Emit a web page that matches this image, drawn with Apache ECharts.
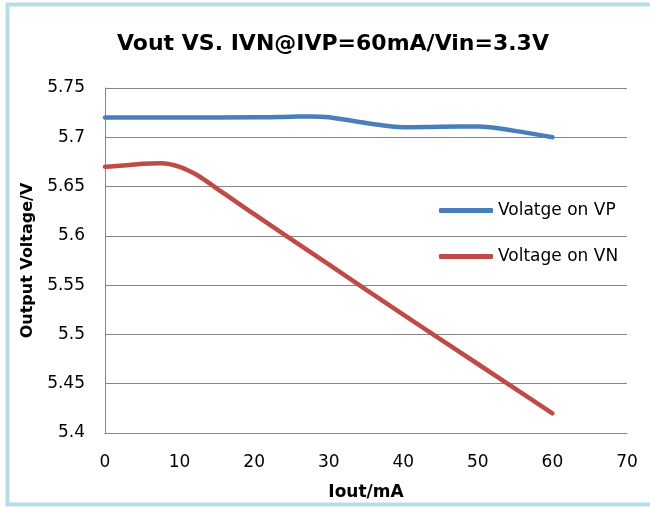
<!DOCTYPE html>
<html>
<head>
<meta charset="utf-8">
<script src="https://cdn.jsdelivr.net/npm/echarts@6/dist/echarts.min.js"></script>
<style>
html,body{margin:0;padding:0;background:#fff;}
#chart{width:650px;height:507px;}
</style>
</head>
<body>
<div id="chart"></div>
<script>
var titleText = 'Vout VS. IVN@IVP=60mA/Vin=3.3V';
var xName = 'Iout/mA';
var yName = 'Output Voltage/V';
var vpName = 'Volatge on VP';
var vnName = 'Voltage on VN';
// values
var vpIout   = [0, 10, 20, 25, 27.5, 30, 35, 40, 45, 50, 55, 60];
var vpValues = [5.720, 5.720, 5.7202, 5.7209, 5.7212, 5.7204, 5.7145, 5.7102, 5.7107, 5.7109, 5.7065, 5.700];
var vnIout   = [0, 2.5, 5, 7.5, 10, 12.5, 15, 17.5, 20, 30, 40, 50, 60];
var vnValues = [5.670, 5.6713, 5.6731, 5.6736, 5.6700, 5.661, 5.648, 5.635, 5.622, 5.571, 5.520, 5.470, 5.420];

function pairs(xs, ys) { return xs.map(function (x, i) { return [x, ys[i]]; }); }

var chart = echarts.init(document.getElementById('chart'), null, {renderer: 'canvas'});
var font = 'DejaVu Sans';
chart.setOption({
  animation: false,
  backgroundColor: '#ffffff',
  graphic: [{
    type: 'rect', silent: true, z: 100,
    shape: {x: 7.5, y: 4.5, width: 700, height: 500},
    style: {fill: null, stroke: '#b7dde8', lineWidth: 4}
  }],
  title: {
    text: titleText, left: 112, top: 28,
    textStyle: {fontFamily: font, fontWeight: 'bold', fontSize: 22, color: '#000'}
  },
  grid: {left: 105, right: 23, top: 88, bottom: 74, containLabel: false},
  legend: {
    orient: 'vertical', left: 434, top: 197, itemGap: 29,
    itemWidth: 54, itemHeight: 5, icon: 'roundRect',
    textStyle: {fontFamily: font, fontSize: 17, color: '#000'},
    data: [vpName, vnName]
  },
  xAxis: {
    type: 'value', min: 0, max: 70, interval: 10,
    name: xName, nameLocation: 'middle', nameGap: 51,
    nameTextStyle: {fontFamily: font, fontWeight: 'bold', fontSize: 17, color: '#000'},
    axisLine: {show: true, lineStyle: {color: '#868686', width: 1}},
    axisTick: {show: false},
    splitLine: {show: false},
    axisLabel: {fontFamily: font, fontSize: 17, color: '#000', margin: 21}
  },
  yAxis: {
    type: 'value', min: 5.4, max: 5.75, interval: 0.05,
    name: yName, nameLocation: 'middle', nameGap: 65, nameRotate: 90,
    nameTextStyle: {fontFamily: font, fontWeight: 'bold', fontSize: 16, color: '#000'},
    axisLine: {show: true, lineStyle: {color: '#868686', width: 1}},
    axisTick: {show: false},
    splitLine: {show: true, lineStyle: {color: '#868686', width: 1}},
    axisLabel: {fontFamily: font, fontSize: 17, color: '#000', margin: 20,
      formatter: function (v) { return String(Math.round(v * 100) / 100); }}
  },
  series: [{
    name: vpName, type: 'line', smooth: 0.3, showSymbol: false,
    data: pairs(vpIout, vpValues),
    itemStyle: {color: '#4a7ebb'},
    lineStyle: {color: '#4a7ebb', width: 4.5, cap: 'round', join: 'round'}
  }, {
    name: vnName, type: 'line', smooth: 0.3, showSymbol: false,
    data: pairs(vnIout, vnValues),
    itemStyle: {color: '#be4b48'},
    lineStyle: {color: '#be4b48', width: 4.5, cap: 'round', join: 'round'}
  }]
});
</script>
</body>
</html>
